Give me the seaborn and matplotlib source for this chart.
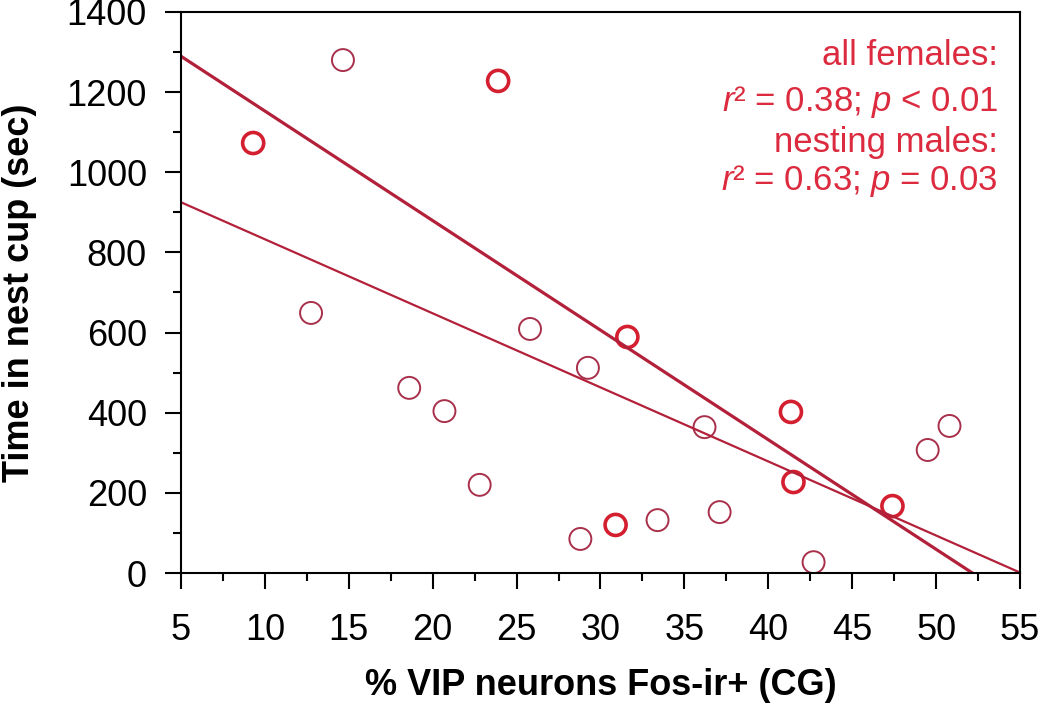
import numpy as np
import pandas as pd
import matplotlib
matplotlib.use('Agg')
import matplotlib.pyplot as plt
from matplotlib.ticker import MultipleLocator
import seaborn as sns

# values
other_x = [14.65, 12.75, 18.6, 20.7, 22.8, 25.8, 29.25, 28.8, 33.4, 36.2, 37.1, 42.7, 49.5, 50.8]
other_y = [1280, 649, 462, 404, 220, 609, 512, 85, 132, 364, 152, 27, 307, 367]
nest_x = [9.3, 23.9, 31.6, 30.9, 41.35, 41.5, 47.4]
nest_y = [1073, 1228, 589, 120, 402, 227, 167]

x_ticks = [5, 10, 15, 20, 25, 30, 35, 40, 45, 50, 55]
y_ticks = [0, 200, 400, 600, 800, 1000, 1200, 1400]
stats_lines = ['all females:', '$r$² = 0.38; $p$ < 0.01',
               'nesting males:', '$r$² = 0.63; $p$ = 0.03']

other = pd.DataFrame({'x': other_x, 'y': other_y})
nest = pd.DataFrame({'x': nest_x, 'y': nest_y})
both = pd.concat([other, nest], ignore_index=True)

sns.set_style('ticks')
plt.rcParams['font.family'] = ['Liberation Sans', 'DejaVu Sans']
plt.rcParams['mathtext.fontset'] = 'custom'
plt.rcParams['mathtext.rm'] = 'Liberation Sans'
plt.rcParams['mathtext.it'] = 'Liberation Sans:italic'
plt.rcParams['text.color'] = 'black'
plt.rcParams['axes.labelcolor'] = 'black'

text_red = '#dc2a3e'
line_red = '#b3203a'

fig = plt.figure(figsize=(10.5, 7.09), dpi=100)
ax = fig.add_axes([0.1724, 0.1918, 0.799, 0.7913])
ax.set_xlim(5, 55)
ax.set_ylim(0, 1400)

# regression lines over the full x range
sns.regplot(data=both, x='x', y='y', ci=None, scatter=False, truncate=False,
            ax=ax, line_kws={'color': line_red, 'lw': 1.6})
sns.regplot(data=nest, x='x', y='y', ci=None, scatter=False, truncate=False,
            ax=ax, line_kws={'color': line_red, 'lw': 2.3})

sns.scatterplot(data=other, x='x', y='y', ax=ax, s=250)
c = ax.collections[-1]
c.set_facecolor('none'); c.set_edgecolor('#a8304a'); c.set_linewidth(1.4)

sns.scatterplot(data=nest, x='x', y='y', ax=ax, s=230)
c = ax.collections[-1]
c.set_facecolor('none'); c.set_edgecolor('#d41f30'); c.set_linewidth(2.6)

ax.set_xlim(5, 55)
ax.set_ylim(0, 1400)
ax.set_xticks(x_ticks)
ax.set_yticks(y_ticks)
ax.xaxis.set_minor_locator(MultipleLocator(2.5))
ax.yaxis.set_minor_locator(MultipleLocator(100))

for s in ax.spines.values():
    s.set_visible(True)
    s.set_linewidth(1.5)
    s.set_color('black')
ax.tick_params(which='major', direction='out', length=11.5, width=1.5, labelsize=26,
               color='black', labelcolor='black')
ax.tick_params(which='minor', direction='out', length=5.8, width=1.5, color='black')
ax.tick_params(axis='y', pad=13)
ax.tick_params(axis='x', pad=17)

ax.set_xlabel('% VIP neurons Fos-ir+ (CG)', fontsize=26, fontweight='bold', color='black')
ax.set_ylabel('Time in nest cup (sec)', fontsize=26, fontweight='bold', color='black')
ax.xaxis.set_label_coords(0.5, -0.17)
ax.yaxis.set_label_coords(-0.172, 0.5)

for txt, yy in zip(stats_lines, [0.906, 0.824, 0.750, 0.683]):
    ax.text(0.974, yy, txt, transform=ax.transAxes, ha='right', va='baseline',
            fontsize=25, color=text_red)

fig.savefig('out.png', dpi=100)
